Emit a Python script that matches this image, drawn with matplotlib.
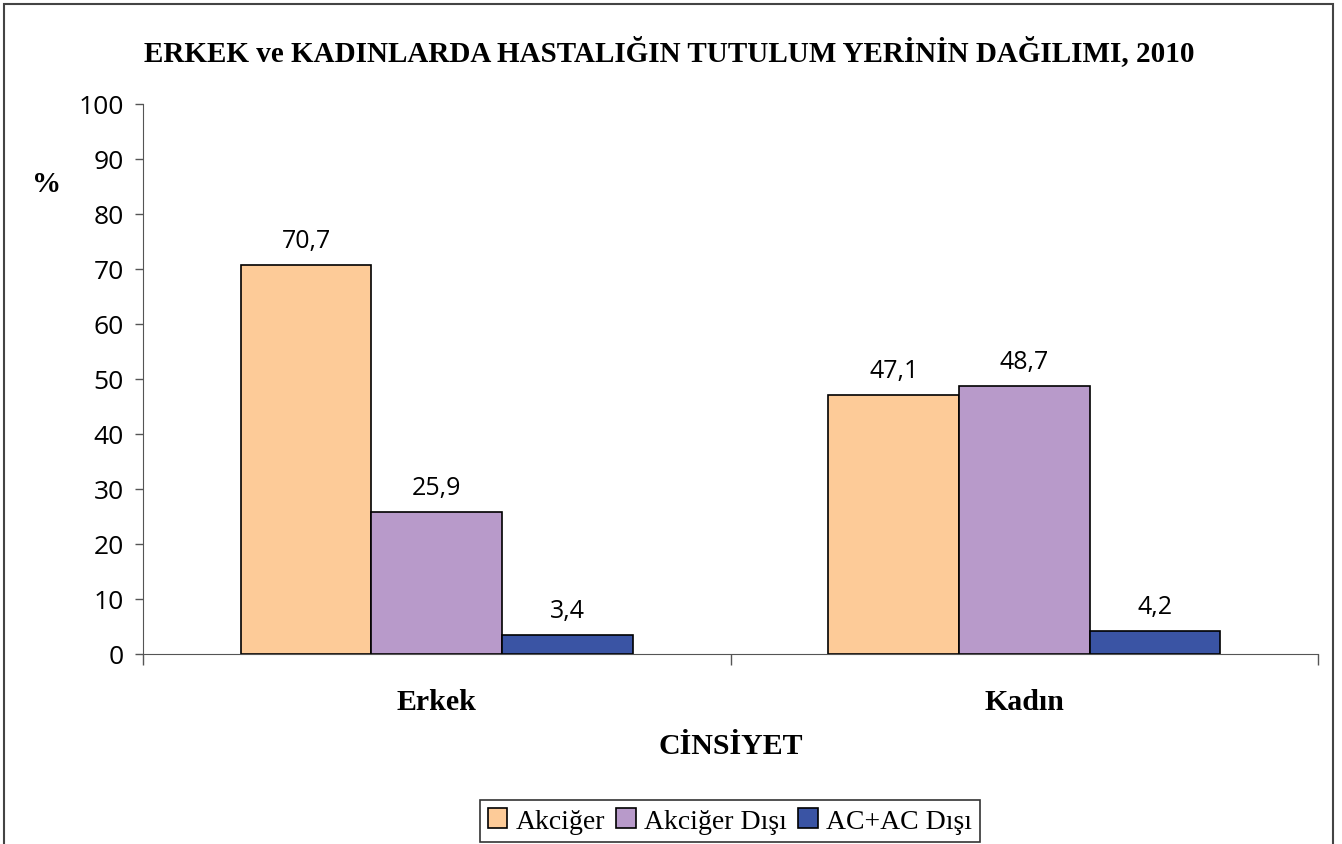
import numpy as np
import matplotlib.pyplot as plt
from matplotlib.patches import Rectangle

categories = ['Erkek', 'Kadın']
series = ['Akciğer', 'Akciğer Dışı', 'AC+AC Dışı']
akciger = [70.7, 47.1]
akciger_disi = [25.9, 48.7]
ac_ac_disi = [3.4, 4.2]
colors = ['#FDCB98', '#B89ACA', '#3A54A4']

serif = ['Liberation Serif', 'DejaVu Serif']
sans = ['Open Sans', 'DejaVu Sans']

fig = plt.figure(figsize=(13.42, 8.45), dpi=100)
ax = fig.add_axes([143/1342, 1-655/845, (1318-143)/1342, 550/845])

x = np.arange(len(categories))
w = 1/4.5
values = [akciger, akciger_disi, ac_ac_disi]
for i, (name, vals, c) in enumerate(zip(series, values, colors)):
    bars = ax.bar(x + (i-1)*w, vals, w, color=c, edgecolor='black', linewidth=1.2, label=name)
    for b, v in zip(bars, vals):
        ax.annotate(f'{v:.1f}'.replace('.', ','), (b.get_x() + b.get_width()/2, v),
                    xytext=(0, 17.5), textcoords='offset points', ha='center', va='center',
                    fontsize=18, family=sans)

ax.set_xlim(-0.5, 1.5)
ax.set_ylim(0, 100)
ax.set_yticks(range(0, 101, 10))
ax.tick_params(axis='y', direction='out', length=6, width=1, color='#555555', labelsize=19, pad=8)
for t in ax.get_yticklabels():
    t.set_family(sans)
ax.set_xticks([-0.5, 0.5, 1.5])
ax.set_xticklabels([])
ax.tick_params(axis='x', direction='out', length=8, width=1, color='#555555')
for i, c in enumerate(categories):
    ax.text(x[i], -8.7, c, ha='center', va='center', fontsize=21.5, fontweight='bold', family=serif)
ax.text(0.5, -16.6, 'CİNSİYET', ha='center', va='center', fontsize=21.5, fontweight='bold', family=serif)
for s in ['top', 'right']:
    ax.spines[s].set_visible(False)
ax.spines['left'].set_color('#555555')
ax.spines['bottom'].set_color('#555555')

fig.text(669/1342, 1-52/845, 'ERKEK ve KADINLARDA HASTALIĞIN TUTULUM YERİNİN DAĞILIMI, 2010',
         ha='center', va='center', fontsize=21, fontweight='bold', family=serif)
fig.text(47/1342, 1-185/845, '%', ha='center', va='center', fontsize=21, fontweight='bold', family=serif)

fig.patches.append(Rectangle((4/1342, -0.05), (1333-4)/1342, 1.05-5/845, transform=fig.transFigure,
                             fill=False, edgecolor='#444444', linewidth=1.5))

leg = fig.legend(loc='center', bbox_to_anchor=(730/1342, 1-822/845), ncol=3, frameon=True,
                 fancybox=False, edgecolor='black', prop={'family': serif, 'size': 20},
                 handlelength=0.7, handleheight=0.7, handletextpad=0.3, columnspacing=0.4,
                 borderpad=0.3)
leg.get_frame().set_linewidth(1.2)

fig.savefig('out.png', dpi=100)
